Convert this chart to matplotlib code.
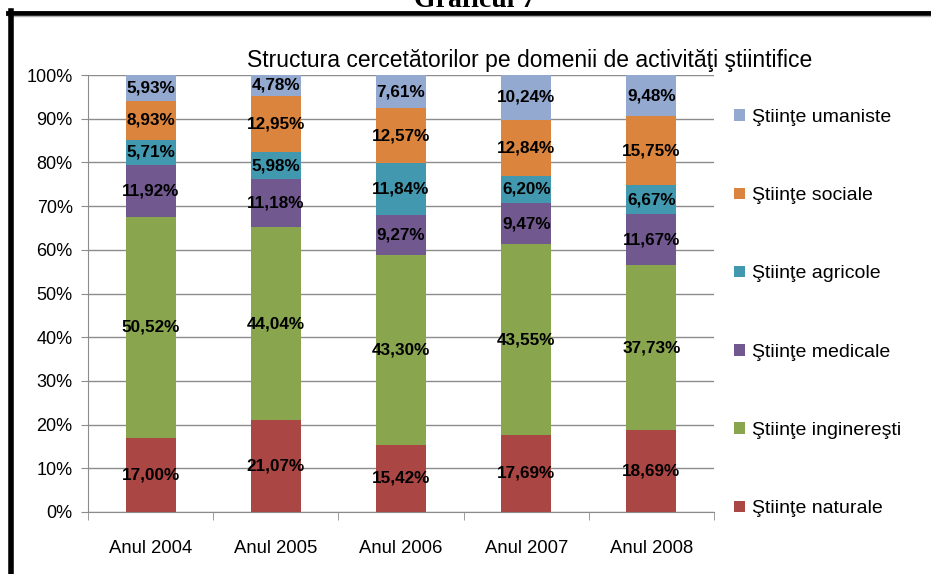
import matplotlib
matplotlib.use("Agg")
import matplotlib.pyplot as plt
from matplotlib.lines import Line2D
from matplotlib.patches import Patch

YEARS = ["Anul 2004", "Anul 2005", "Anul 2006", "Anul 2007", "Anul 2008"]

# bottom to top
SERIES = ["Ştiinţe naturale", "Ştiinţe inginereşti", "Ştiinţe medicale",
          "Ştiinţe agricole", "Ştiinţe sociale", "Ştiinţe umaniste"]
naturale = [17.00, 21.07, 15.42, 17.69, 18.69]
ingineresti = [50.52, 44.04, 43.30, 43.55, 37.73]
medicale = [11.92, 11.18, 9.27, 9.47, 11.67]
agricole = [5.71, 5.98, 11.84, 6.20, 6.67]
sociale = [8.93, 12.95, 12.57, 12.84, 15.75]
umaniste = [5.93, 4.78, 7.61, 10.24, 9.48]
COLORS = ["#AA4643", "#89A54E", "#71588F", "#4198AF", "#DB843D", "#93A9CF"]

plt.rcParams["font.family"] = ["Liberation Sans", "DejaVu Sans"]

W, H = 931, 574
fig = plt.figure(figsize=(W / 100, H / 100), dpi=100)
ax = fig.add_axes([88 / W, 62 / H, (714 - 88) / W, 437 / H])

values = [naturale, ingineresti, medicale, agricole, sociale, umaniste]
x = list(range(len(YEARS)))
bottom = [0.0] * len(YEARS)
for name, vals, col in zip(SERIES, values, COLORS):
    total = [sum(v[i] for v in values) for i in x]
    frac = [vals[i] / total[i] * 100 for i in x]
    ax.bar(x, frac, 0.4, bottom=bottom, color=col, label=name, zorder=2)
    for i in x:
        ax.text(i, bottom[i] + frac[i] / 2, f"{vals[i]:.2f}%".replace(".", ","),
                ha="center", va="center", fontsize=12.3, fontweight="bold",
                color="black", zorder=3)
    bottom = [b + f for b, f in zip(bottom, frac)]

ax.set_xlim(-0.5, len(YEARS) - 0.5)
ax.set_ylim(0, 100)
ax.set_yticks(range(0, 101, 10))
ax.set_yticklabels([f"{v}%" for v in range(0, 101, 10)], fontsize=13)
ax.set_xticks(x)
ax.set_xticklabels(YEARS, fontsize=13.3)
ax.set_xticks([i - 0.5 for i in range(len(YEARS) + 1)], minor=True)
ax.tick_params(axis="x", which="major", length=0, pad=20)
ax.tick_params(axis="x", which="minor", length=6, color="#8C8C8C")
ax.tick_params(axis="y", length=5, color="#8C8C8C", pad=6)
ax.grid(axis="y", color="#8C8C8C", lw=1, zorder=1)
for s in ("top", "right"):
    ax.spines[s].set_visible(False)
for s in ("left", "bottom"):
    ax.spines[s].set_color("#8C8C8C")

ax.set_title("Structura cercetătorilor pe domenii de activităţi ştiintifice",
             fontsize=16.5, pad=6, x=0.705)

handles = [Patch(facecolor=c, label=n) for n, c in zip(SERIES, COLORS)][::-1]
ax.legend(handles=handles, loc="upper left", bbox_to_anchor=(1.02, 0.94),
          frameon=False, fontsize=14, handlelength=0.55, handleheight=0.55,
          handletextpad=0.35, labelspacing=3.15, borderaxespad=0)

# frame pieces of the document page
fig.add_artist(Line2D([8 / W, 1], [1 - 13 / H] * 2, color="black", lw=3.5))
fig.add_artist(Line2D([8 / W, 1], [1 - 16 / H] * 2, color="#B0B0B0", lw=1))
fig.add_artist(Line2D([10.5 / W] * 2, [0, 1 - 11 / H], color="black", lw=4))
fig.text(475 / W, 1 - 7 / H, "Graficul 7", ha="center", va="baseline",
         fontsize=20, fontweight="bold", family="Liberation Serif")

fig.savefig("out.png", dpi=100, facecolor="white")
